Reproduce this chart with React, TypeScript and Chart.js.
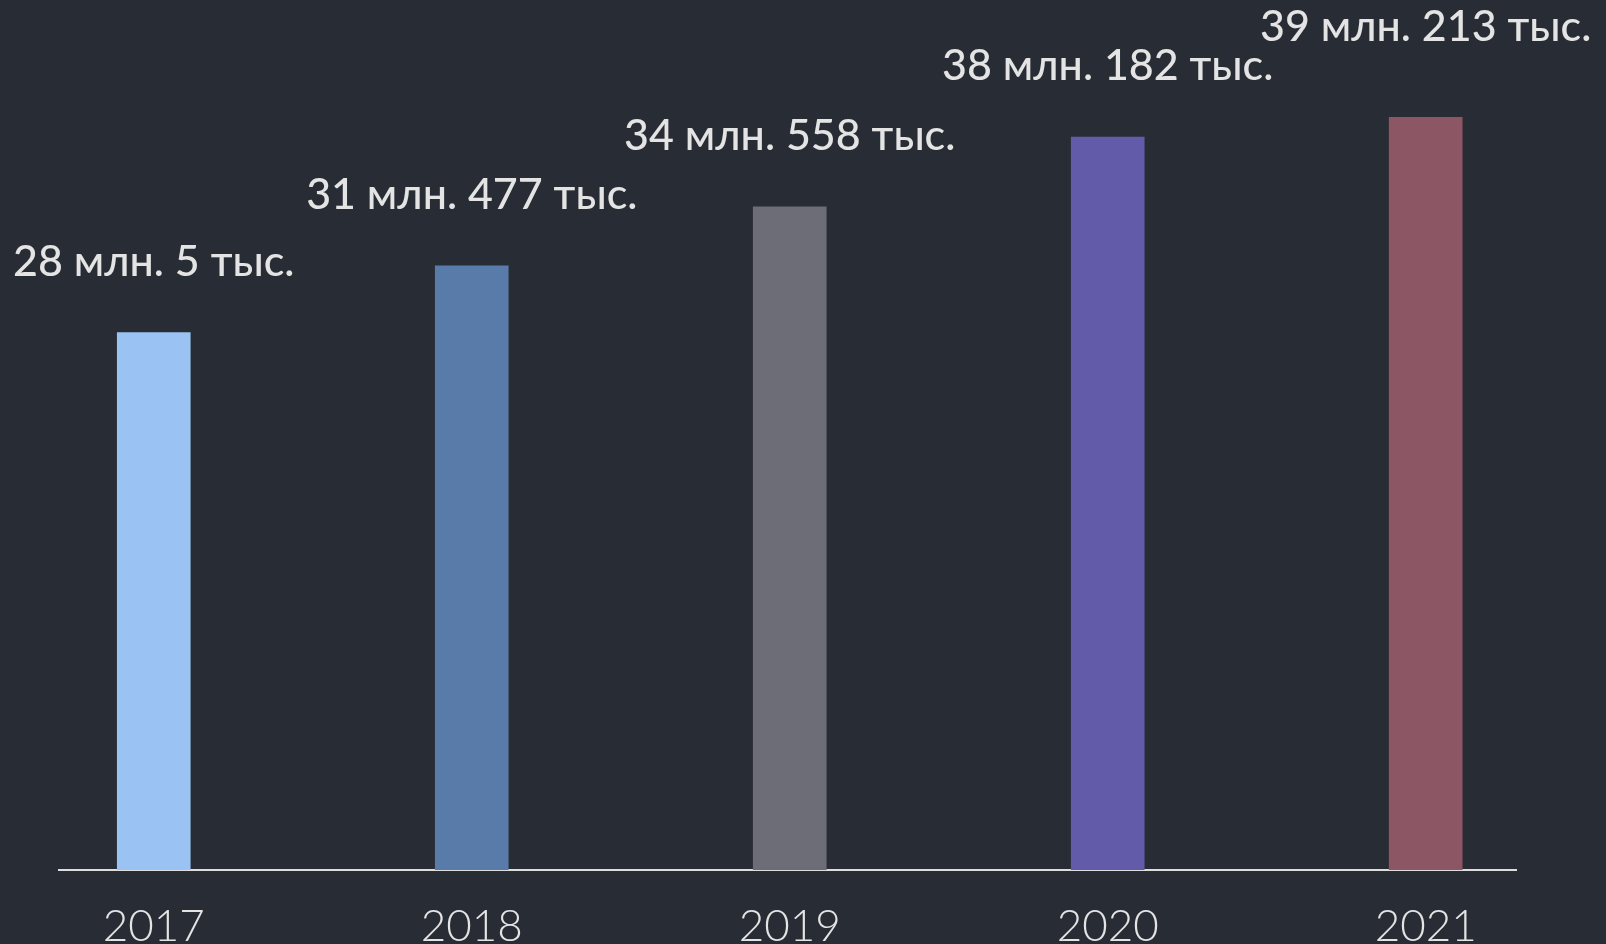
import React, { useEffect, useRef } from "react";
import { Chart, registerables } from "chart.js";

Chart.register(...registerables);

const years = ["2017", "2018", "2019", "2020", "2021"];
// values in thousands
const values = [28005, 31477, 34558, 38182, 39213];
const barColors = ["#9ac3f3", "#587baa", "#6d6d78", "#625baa", "#8d5664"];

const BG = "#282c34";
const TEXT = "#e4e4e4";
const FONT = "Lato";

function formatLabel(v: number): string {
  const mln = Math.floor(v / 1000);
  const ths = v % 1000;
  return `${mln} млн. ${ths} тыс.`;
}

const labelPlugin = {
  id: "valueLabels",
  afterDatasetsDraw(chart: any) {
    const ctx = chart.ctx as CanvasRenderingContext2D;
    const meta = chart.getDatasetMeta(0);
    const size = 43;
    const capH = size * 0.72;
    ctx.save();
    ctx.fillStyle = TEXT;
    ctx.font = `500 ${size}px ${FONT}`;
    ctx.textAlign = "center";
    ctx.textBaseline = "alphabetic";
    let prev: { left: number; right: number; top: number } | null = null;
    meta.data.forEach((bar: any, i: number) => {
      const text = formatLabel(values[i]);
      const w = ctx.measureText(text).width;
      const left = bar.x - w / 2;
      const right = bar.x + w / 2;
      let y = bar.y - 57;
      // avoid colliding with the previous label
      if (prev && left < prev.right && y > prev.top - 8) {
        y = prev.top - 8;
      }
      ctx.fillText(text, bar.x, y);
      prev = { left, right, top: y - capH };
    });
    ctx.restore();
  },
};

export default function App() {
  const ref = useRef<HTMLCanvasElement | null>(null);

  useEffect(() => {
    if (!ref.current) return;
    const chart = new Chart(ref.current, {
      type: "bar",
      data: {
        datasets: [
          {
            data: values.map((v, i) => ({ x: i, y: v })),
            backgroundColor: barColors,
            borderWidth: 0,
            barThickness: 73,
            xAxisID: "x",
            yAxisID: "y",
          },
        ],
      },
      options: {
        animation: false,
        responsive: true,
        maintainAspectRatio: false,
        layout: { padding: { left: 59, right: 90, top: 0, bottom: 0 } },
        plugins: {
          legend: { display: false },
          tooltip: { enabled: false },
        },
        scales: {
          x: {
            type: "linear",
            position: "bottom",
            offset: false,
            bounds: "data",
            min: -0.298,
            max: 4.284,
            grid: { display: false, offset: false },
            border: { display: true, color: "#dedede", width: 2 },
            afterBuildTicks: (scale: any) => {
              scale.ticks = years.map((_, i) => ({ value: i }));
            },
            afterFit: (scale: any) => {
              scale.height = 74;
            },
            ticks: {
              color: TEXT,
              font: { family: FONT, size: 44, weight: 300 },
              padding: 22,
              maxRotation: 0,
              autoSkip: false,
              callback: (v: any) => years[v as number] ?? "",
            },
          },
          y: {
            display: false,
            min: 0,
            max: 45330,
          },
        },
      },
      plugins: [labelPlugin],
    });
    return () => chart.destroy();
  }, []);

  return (
    <div
      style={{
        position: "fixed",
        left: 0,
        top: 0,
        width: 1606,
        height: 944,
        background: BG,
      }}
    >
      <canvas ref={ref} />
    </div>
  );
}
